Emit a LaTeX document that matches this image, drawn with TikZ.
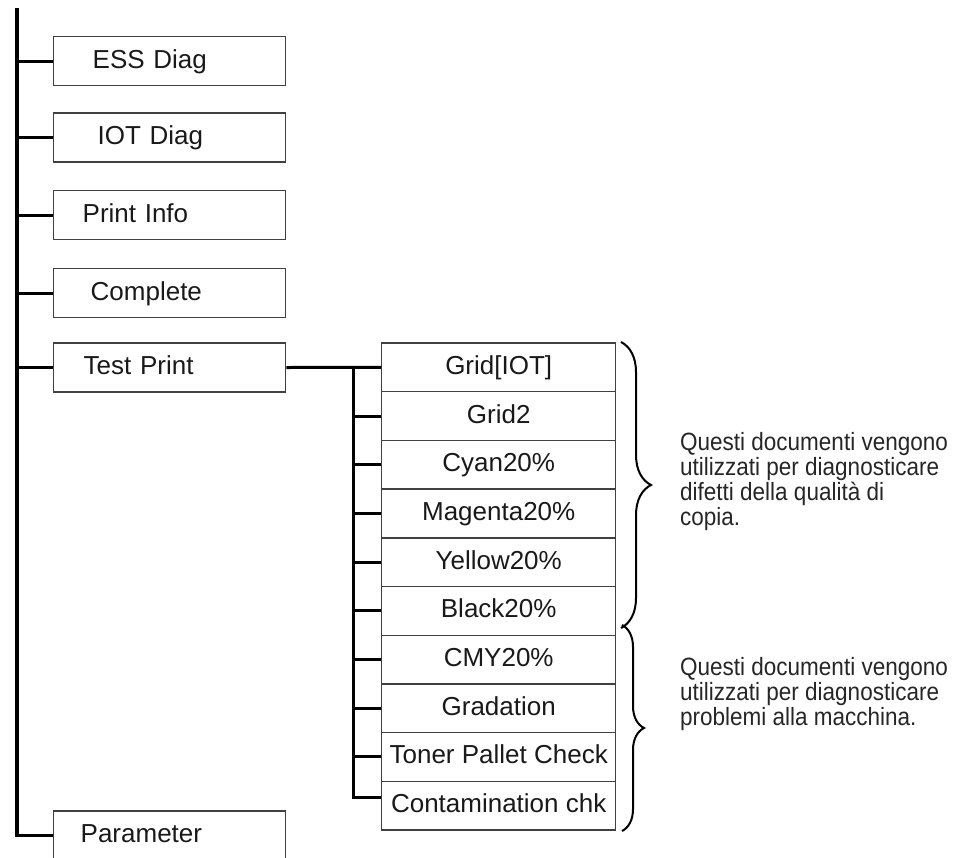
\documentclass[tikz,border=0pt]{standalone}
\usepackage{fontspec}
\setmainfont{Liberation Sans}
\newfontfamily\annfont[FakeStretch=0.9]{Liberation Sans}
\usetikzlibrary{decorations.pathreplacing}
\begin{document}
\begin{tikzpicture}[x=1pt,y=-1pt,
  every node/.style={font=\fontsize{26}{30}\selectfont, text=black!90},
  boxline/.style={draw=black!75, line width=1.4pt},
  leftbox/.style n args={2}{boxline, minimum width=232pt, minimum height=49pt,
     inner ysep=0pt, inner xsep=#1, text width=#2, align=left, anchor=west,
     text height=19pt, text depth=5pt},
  rowbox/.style={boxline, minimum width=234pt, minimum height=48.7pt,
     inner sep=0pt, anchor=west, text height=19pt, text depth=5pt},
  conn/.style={line width=3pt, black},
  trunk/.style={line width=3.5pt, black},
  brace/.style={decorate, decoration={brace, amplitude=#1}, line width=2pt, black},
  ann/.style={font=\annfont\fontsize{25}{25}\selectfont, align=left, anchor=west, inner sep=0pt, text=black!85}
]
\useasboundingbox (0,0) rectangle (961,857);
\clip (0,0) rectangle (961,857);

% left column boxes
\node[leftbox={39pt}{154pt}] (ess) at (53,61) {ESS Diag};
\node[leftbox={44pt}{144pt}] (iot) at (53,137.5) {IOT Diag};
\node[leftbox={29pt}{174pt}] (pinfo) at (53,215) {Print Info};
\node[leftbox={37pt}{158pt}] (compl) at (53,293) {Complete};
\node[leftbox={30pt}{172pt}] (tp) at (53,367.5) {Test Print};
\node[leftbox={27pt}{178pt}] (param) at (53,835.5) {Parameter};

% trunk
\coordinate (top) at (17,8);
\draw[trunk] (top) |- (param.west);
\foreach \n in {ess,iot,pinfo,compl,tp}
  \draw[conn] (top |- \n.west) -- (\n.west);

% right stack
\node[rowbox] (r1) at (381,367.35) {Grid[IOT]};
\node[rowbox] (r2) at (381,416.05) {Grid2};
\node[rowbox] (r3) at (381,464.75) {Cyan20\%};
\node[rowbox] (r4) at (381,513.45) {Magenta20\%};
\node[rowbox] (r5) at (381,562.15) {Yellow20\%};
\node[rowbox] (r6) at (381,610.85) {Black20\%};
\node[rowbox] (r7) at (381,659.55) {CMY20\%};
\node[rowbox] (r8) at (381,708.25) {Gradation};
\node[rowbox] (r9) at (381,756.95) {Toner Pallet Check};
\node[rowbox] (r10) at (381,805.65) {Contamination chk};

% test print connectors
\coordinate (sp) at (353,367.5);
\draw[conn] (tp.east) -- (r1.west);
\draw[conn] (sp) |- ([yshift=8pt]r10.west);
\foreach \n in {r2,r3,r4,r5,r6,r7,r8,r9}
  \draw[conn] (sp |- \n.west) -- (\n.west);

% braces
\coordinate (b1a) at (621,342);
\coordinate (b1b) at (621,628);
\coordinate (b2a) at (622,625);
\coordinate (b2b) at (622,831);
\draw[brace=30pt] (b1a) -- (b1b);
\draw[brace=22pt] (b2a) -- (b2b);

% annotations
\node[ann] (t1) at (680,482) {Questi documenti vengono\\utilizzati per diagnosticare\\difetti della qualità di\\copia.};
\node[ann] (t2) at (680,694) {Questi documenti vengono\\utilizzati per diagnosticare\\problemi alla macchina.};
\end{tikzpicture}
\end{document}
